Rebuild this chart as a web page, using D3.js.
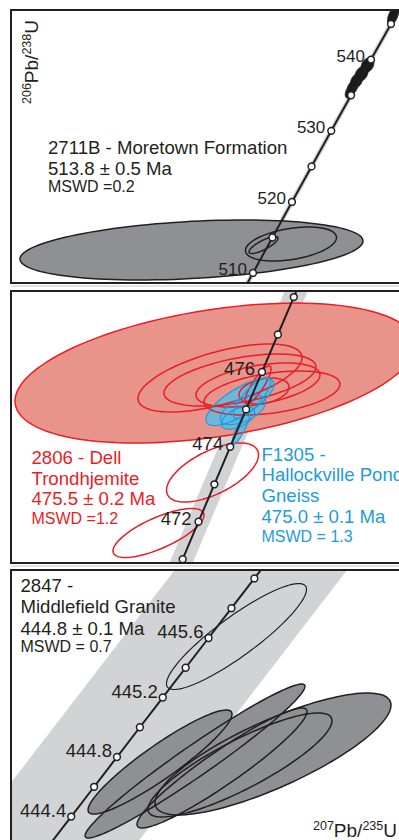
<!DOCTYPE html>
<html><head><meta charset="utf-8">
<script src="https://cdn.jsdelivr.net/npm/d3@7"></script>
<style>
html,body{margin:0;padding:0;background:#fff;}
svg{display:block;font-family:"Liberation Sans",Arial,Helvetica,sans-serif;}
</style></head><body>
<svg id="chart" width="399" height="840"></svg>
<script>
// U decay constants (per year)
const LAMBDA_238 = 1.55125e-10;
const LAMBDA_235 = 9.8485e-10;
// half-width of the decay-constant envelope, in 207Pb/235U units
const ENVELOPE = 0.00115;

// ---- 2711B Moretown Formation ----
const moretownAges = [505, 510, 515, 520, 525, 530, 535, 540, 545, 550];
const moretownLabels = [510, 520, 530, 540];
const moretownX = [0.55085, 0.71505];
const moretownY = [0.08209, 0.08855];
// ellipses: [207Pb/235U, 206Pb/238U, 2s x, 2s y, rho]
const moretownGray = [[0.62665, 0.082871, 0.07202, 0.000710, 0.30]];
const moretownOpen = [
  [0.668436, 0.083013, 0.019108, 0.000402, 0.38],
  [0.656887, 0.082989, 0.00609, 0.000201, 0.80]
];
const moretownBlack = [
  [0.711271, 0.088408, 0.0023, 0.000215, 0.5],
  [0.700552, 0.087245, 0.0027, 0.000175, 0.3],
  [0.698052, 0.087039, 0.0027, 0.000175, 0.3],
  [0.695952, 0.086874, 0.0025, 0.000170, 0.3],
  [0.694272, 0.086718, 0.0023, 0.000170, 0.4],
  [0.693213, 0.08661, 0.0020, 0.000150, 0.4]
];
const moretownText = ["2711B - Moretown Formation", "513.8 \u00b1 0.5 Ma", "MSWD =0.2"];

// ---- 2806 Dell Trondhjemite / F1305 Hallockville Pond Gneiss ----
const dellAges = [470, 471, 472, 473, 474, 475, 476, 477, 478, 479];
const dellLabels = [472, 474, 476];
const dellX = [0.57321, 0.61192];
const dellY = [0.075782, 0.076995];
const dellFill = [[0.593406, 0.076629, 0.0198, 0.000312, 0.40]];
const dellOpen = [
  [0.593901, 0.076607, 0.008118, 0.0001516, 0.60],
  [0.595881, 0.076598, 0.007524, 0.000116, 0.50],
  [0.597663, 0.076576, 0.006138, 0.0000981, 0.45],
  [0.599049, 0.07654, 0.006732, 0.0000981, 0.40],
  [0.598257, 0.076549, 0.002475, 0.000058, 0.30],
  [0.597663, 0.076576, 0.001287, 0.0000847, 0.85],
  [0.593159, 0.0761856, 0.004554, 0.0001316, 0.60],
  [0.587813, 0.0759158, 0.004505, 0.0001093, 0.73]
];
const hallockville = [
  [0.595881, 0.076500, 0.00337, 0.000105, 0.75],
  [0.597069, 0.0765178, 0.00185, 0.000092, 0.80],
  [0.596178, 0.0764643, 0.00225, 0.000065, 0.55],
  [0.595684, 0.0764286, 0.00165, 0.000050, 0.50],
  [0.59598, 0.076384, 0.00085, 0.000072, 0.85]
];
const dellText = ["2806 - Dell", "Trondhjemite", "475.5 \u00b1 0.2 Ma", "MSWD =1.2"];
const hallockvilleText = ["F1305 -", "Hallockville Pond", "Gneiss", "475.0 \u00b1 0.1 Ma", "MSWD = 1.3"];

// ---- 2847 Middlefield Granite ----
const middlefieldAges = [444.2, 444.4, 444.6, 444.8, 445.0, 445.2, 445.4, 445.6, 445.8, 446.0, 446.2];
const middlefieldLabels = [444.4, 444.8, 445.2, 445.6];
const middlefieldX = [0.548286, 0.553502];
const middlefieldY = [0.0713375, 0.0716447];
const middlefieldOpen = [[0.551294, 0.0715704, 0.000934, 0.0000592, 0.89]];
const middlefieldGray = [
  [0.551781, 0.0714392, 0.001574, 0.0000681, 0.80],
  [0.551341, 0.0714269, 0.001227, 0.0000581, 0.85],
  [0.550274, 0.0714302, 0.00096, 0.0000581, 0.92],
  [0.550741, 0.0714313, 0.001467, 0.000086, 0.97],
  [0.551101, 0.0714235, 0.001134, 0.000067, 0.94]
];
const middlefieldText = ["2847 -", "Middlefield Granite", "444.8 \u00b1 0.1 Ma", "MSWD = 0.7"];

const INK = "#231f20", RED = "#ed1c24", BLUE = "#1e9cd8";
const svg = d3.select("#chart");

function concordia(tMa) {
  const t = tMa * 1e6;
  return [Math.expm1(LAMBDA_235 * t), Math.expm1(LAMBDA_238 * t)];
}
function ellipsePoints(e, n = 120) {
  const [cx, cy, sx, sy, r] = e;
  const k = Math.sqrt(1 - r * r);
  return d3.range(n).map(i => {
    const a = 2 * Math.PI * i / n, c = Math.cos(a), s = Math.sin(a);
    return [cx + sx * c, cy + sy * (r * c + k * s)];
  });
}

const panels = [
  {id: "p1", frame: [11, 10, 402, 283], xd: moretownX, yd: moretownY, ages: moretownAges,
   labels: moretownLabels, labelFmt: d3.format("d"), labelSize: 17, ldx: -6, ldy: 2,
   layers: [
     {data: moretownGray, fill: "#8e9093", stroke: INK, sw: 1.5},
     {data: moretownOpen, fill: "none", stroke: INK, sw: 1.5},
     {data: moretownBlack, fill: "#1a1a1a", stroke: INK, sw: 1}
   ],
   blocks: [{x: 48, y: 154, color: INK, lines: moretownText, gaps: [0, 21, 17]}]},
  {id: "p2", frame: [11, 291, 402, 563], xd: dellX, yd: dellY, ages: dellAges,
   labels: dellLabels, labelFmt: d3.format("d"), labelSize: 18.5, ldx: -7, ldy: 3.5,
   layers: [
     {data: dellFill, fill: "#e8948a", stroke: null},
     {data: hallockville, fill: "#55bdea", opacity: 0.8, stroke: null},
     {data: dellFill, fill: "none", stroke: RED, sw: 1.5},
     {data: dellOpen, fill: "none", stroke: RED, sw: 1.5},
     {data: hallockville, fill: "none", stroke: BLUE, sw: 1.2}
   ],
   blocks: [
     {x: 31.5, y: 464, color: RED, lines: dellText, gaps: [0, 21, 20, 19]},
     {x: 261.5, y: 461, color: BLUE, lines: hallockvilleText, gaps: [0, 20, 21, 21, 19]}
   ]},
  {id: "p3", frame: [11, 570, 402, 845], xd: middlefieldX, yd: middlefieldY, ages: middlefieldAges,
   labels: middlefieldLabels, labelFmt: d3.format(".1f"), labelSize: 18.5, ldx: -5, ldy: 0,
   layers: [
     {data: middlefieldGray, fill: "#8e9093", stroke: null},
     {data: middlefieldGray, fill: "none", stroke: INK, sw: 1.5},
     {data: middlefieldOpen, fill: "none", stroke: INK, sw: 1.2}
   ],
   blocks: [{x: 20.5, y: 592, color: INK, lines: middlefieldText, gaps: [0, 21, 22, 17]}]}
];

// light separators between the stacked panels
svg.append("rect").attr("x", 11).attr("y", 285).attr("width", 388).attr("height", 2).attr("fill", "#e2e2e2");
svg.append("rect").attr("x", 11).attr("y", 565).attr("width", 388).attr("height", 2).attr("fill", "#e2e2e2");

panels.forEach(p => {
  const [x0, y0, x1, y1] = p.frame;
  const x = d3.scaleLinear().domain(p.xd).range([x0, x1]);
  const y = d3.scaleLinear().domain(p.yd).range([y1, y0]);
  const clipId = "clip-" + p.id;
  svg.append("clipPath").attr("id", clipId)
    .append("rect").attr("x", x0).attr("y", y0).attr("width", x1 - x0).attr("height", y1 - y0);
  const g = svg.append("g").attr("clip-path", `url(#${clipId})`);

  const pts = p.ages.map(concordia);
  // decay-constant envelope
  const band = pts.map(d => [d[0] - ENVELOPE, d[1]]).concat(pts.slice().reverse().map(d => [d[0] + ENVELOPE, d[1]]));
  g.append("path")
    .attr("d", d3.line().x(d => x(d[0])).y(d => y(d[1])).curve(d3.curveLinearClosed)(band))
    .attr("fill", "#d1d3d4");

  const ell = d3.line().x(d => x(d[0])).y(d => y(d[1])).curve(d3.curveLinearClosed);
  p.layers.forEach(L => {
    g.append("g").selectAll("path").data(L.data).join("path")
      .attr("d", e => ell(ellipsePoints(e)))
      .attr("fill", L.fill)
      .attr("fill-opacity", L.opacity == null ? 1 : L.opacity)
      .attr("stroke", L.stroke || "none")
      .attr("stroke-width", L.sw || 0);
  });

  // concordia curve with age markers
  g.append("path")
    .attr("d", d3.line().x(d => x(d[0])).y(d => y(d[1])).curve(d3.curveCatmullRom)(pts))
    .attr("fill", "none").attr("stroke", INK).attr("stroke-width", 2);
  g.append("g").selectAll("circle").data(pts).join("circle")
    .attr("cx", d => x(d[0])).attr("cy", d => y(d[1])).attr("r", 3.4)
    .attr("fill", "#fff").attr("stroke", INK).attr("stroke-width", 1.5);
  g.append("g").selectAll("text").data(p.labels).join("text")
    .attr("x", t => x(concordia(t)[0]) + p.ldx)
    .attr("y", t => y(concordia(t)[1]) + p.ldy)
    .attr("text-anchor", "end").attr("font-size", p.labelSize).attr("fill", INK)
    .text(t => p.labelFmt(t));

  p.blocks.forEach(b => {
    let yy = b.y;
    b.lines.forEach((line, i) => {
      yy += b.gaps[i];
      const small = line.startsWith("MSWD");
      svg.append("text").attr("x", b.x).attr("y", yy)
        .attr("font-size", small ? 16 : 18.6).attr("fill", b.color).text(line);
    });
  });

  svg.append("rect").attr("x", x0).attr("y", y0).attr("width", x1 - x0).attr("height", y1 - y0)
    .attr("fill", "none").attr("stroke", INK).attr("stroke-width", 2);
});

// axis titles
function isoTitle(sel, a, b, c, d) {
  sel.append("tspan").attr("font-size", 12.5).attr("dy", -7.5).text(a);
  sel.append("tspan").attr("font-size", 19).attr("dy", 7.5).text(b);
  sel.append("tspan").attr("font-size", 12.5).attr("dy", -7.5).text(c);
  sel.append("tspan").attr("font-size", 19).attr("dy", 7.5).text(d);
}
const yTitle = svg.append("text").attr("transform", "translate(38,104) rotate(-90)").attr("fill", INK);
isoTitle(yTitle, "206", "Pb/", "238", "U");
const xTitle = svg.append("text").attr("x", 313).attr("y", 837).attr("fill", INK);
isoTitle(xTitle, "207", "Pb/", "235", "U");
</script>
</body></html>
